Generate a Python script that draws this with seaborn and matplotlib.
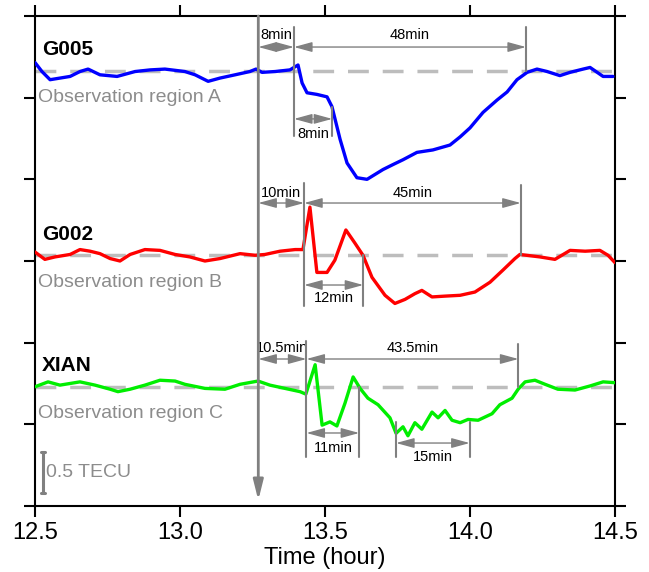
import numpy as np
import pandas as pd
import matplotlib
matplotlib.use("Agg")
import matplotlib.pyplot as plt
import seaborn as sns

# time (hour) and TEC deviation (TECU)
g005_t = [12.500, 12.524, 12.552, 12.621, 12.655, 12.683, 12.724, 12.783, 12.845, 12.897,
          12.948, 13.017, 13.052, 13.097, 13.138, 13.190, 13.241, 13.262, 13.283, 13.328,
          13.379, 13.407, 13.421, 13.438, 13.472, 13.507, 13.524, 13.552, 13.576, 13.610,
          13.645, 13.700, 13.734, 13.769, 13.817, 13.872, 13.931, 13.966, 14.000, 14.045,
          14.093, 14.128, 14.162, 14.197, 14.231, 14.266, 14.310, 14.345, 14.390, 14.414,
          14.459, 14.493]
g005_v = [0.10, -0.01, -0.11, -0.07, -0.01, 0.02, -0.05, -0.07, -0.01, 0.01,
          0.02, -0.01, -0.05, -0.13, -0.09, -0.05, -0.01, 0.02, -0.02, -0.01,
          0.01, 0.07, -0.15, -0.27, -0.29, -0.32, -0.44, -0.84, -1.13, -1.31,
          -1.33, -1.21, -1.15, -1.09, -1.00, -0.97, -0.91, -0.81, -0.70, -0.51,
          -0.36, -0.26, -0.11, -0.02, 0.02, -0.01, -0.06, -0.02, 0.02, 0.04,
          -0.07, -0.07]

g002_t = [12.500, 12.534, 12.569, 12.621, 12.655, 12.690, 12.724, 12.759, 12.793, 12.828,
          12.879, 12.931, 12.983, 13.034, 13.086, 13.138, 13.207, 13.259, 13.293, 13.345,
          13.397, 13.424, 13.448, 13.472, 13.507, 13.534, 13.572, 13.603, 13.631, 13.662,
          13.707, 13.741, 13.776, 13.810, 13.834, 13.869, 13.914, 13.966, 14.017, 14.069,
          14.114, 14.155, 14.172, 14.241, 14.293, 14.345, 14.397, 14.448, 14.476, 14.500]
g002_v = [0.04, -0.05, -0.02, 0.01, 0.07, 0.05, 0.02, -0.04, -0.07, 0.01,
          0.07, 0.06, 0.01, -0.02, -0.07, -0.04, 0.02, 0.00, 0.01, 0.05,
          0.07, 0.07, 0.59, -0.21, -0.21, -0.06, 0.31, 0.15, 0.00, -0.27,
          -0.49, -0.59, -0.54, -0.47, -0.43, -0.51, -0.50, -0.49, -0.45, -0.33,
          -0.18, -0.04, 0.01, -0.02, -0.05, 0.06, 0.05, 0.06, 0.00, -0.09]

xian_t = [12.500, 12.545, 12.586, 12.655, 12.707, 12.759, 12.786, 12.828, 12.879, 12.931,
          12.983, 13.017, 13.086, 13.155, 13.207, 13.269, 13.310, 13.362, 13.414, 13.434,
          13.466, 13.490, 13.517, 13.541, 13.569, 13.597, 13.621, 13.648, 13.683, 13.724,
          13.745, 13.769, 13.786, 13.810, 13.834, 13.869, 13.890, 13.914, 13.938, 13.966,
          13.993, 14.028, 14.076, 14.103, 14.145, 14.166, 14.190, 14.224, 14.259, 14.303,
          14.362, 14.414, 14.459, 14.500]
xian_v = [0.00, 0.06, 0.02, 0.06, 0.02, -0.03, -0.06, -0.03, 0.02, 0.08,
          0.07, 0.03, -0.02, -0.03, 0.03, 0.07, 0.02, -0.02, -0.06, -0.09,
          0.27, -0.47, -0.43, -0.48, -0.20, 0.12, -0.02, -0.14, -0.22, -0.38,
          -0.57, -0.49, -0.60, -0.44, -0.52, -0.31, -0.38, -0.29, -0.41, -0.44,
          -0.40, -0.41, -0.33, -0.22, -0.14, -0.03, 0.06, 0.08, 0.03, -0.03,
          -0.04, 0.01, 0.06, 0.05]

stations = ["G005", "G002", "XIAN"]
regions = ["Observation region A", "Observation region B", "Observation region C"]
colors = ["#0000ff", "#ff0000", "#00ee00"]
offsets = [5.33, 3.07, 1.46]
x_ticks = [12.5, 13.0, 13.5, 14.0, 14.5]
onset = 13.27

sns.set_style("ticks")
plt.rcParams["font.family"] = ["Liberation Sans", "DejaVu Sans"]
plt.rcParams["text.color"] = "black"
plt.rcParams["axes.labelcolor"] = "black"
plt.rcParams["xtick.color"] = "black"
plt.rcParams["ytick.color"] = "black"

fig = plt.figure(figsize=(6.49, 5.72), dpi=100)
ax = fig.add_axes([35 / 649, 66 / 572, 580 / 649, 490 / 572])

gray = "#808080"
series = [(g005_t, g005_v), (g002_t, g002_v), (xian_t, xian_v)]
for (t, v), name, reg, c, off in zip(series, stations, regions, colors, offsets):
    df = pd.DataFrame({"t": t, "v": np.array(v) + off})
    ax.axhline(off, color="#bdbdbd", lw=2.5, ls=(0, (6, 4)), zorder=1)
    sns.lineplot(data=df, x="t", y="v", color=c, lw=2.4, ax=ax, zorder=3)
    ax.text(12.524, off + 0.26, name, fontsize=15, fontweight="bold", va="center")
    ax.text(12.51, off - 0.33, reg, fontsize=14, color="#8c8c8c", va="center")


def vline(x, y0, y1, lw=1.5):
    ax.plot([x, x], [y0, y1], color=gray, lw=lw, zorder=4)


def span(x0, x1, y, label, ty, fs=10.5):
    ax.annotate("", xy=(x1, y), xytext=(x0, y),
                arrowprops=dict(arrowstyle="<|-|>,head_length=1.1,head_width=0.3",
                                color=gray, lw=1.0, shrinkA=0, shrinkB=0), zorder=4)
    ax.text((x0 + x1) / 2, ty, label, fontsize=fs, ha="center", va="center")


# onset line with arrow
ax.annotate("", xy=(onset, 0.07), xytext=(onset, 6.0),
            arrowprops=dict(arrowstyle="-|>,head_length=1.2,head_width=0.3",
                            color=gray, lw=2.0, shrinkA=0, shrinkB=0), zorder=4)

# G005
vline(13.393, 4.53, 5.865)
vline(14.193, 5.33, 5.865)
vline(13.525, 4.53, 4.885)
span(onset, 13.393, 5.62, "8min", 5.77)
span(13.393, 14.193, 5.62, "48min", 5.77)
span(13.393, 13.525, 4.74, "8min", 4.555)

# G002
vline(13.428, 2.45, 3.955)
vline(14.175, 3.07, 3.93)
vline(13.632, 2.45, 3.07)
span(onset, 13.428, 3.71, "10min", 3.83)
span(13.428, 14.175, 3.71, "45min", 3.83)
span(13.428, 13.632, 2.706, "12min", 2.547)

# XIAN
vline(13.436, 0.60, 2.02)
vline(14.167, 1.46, 1.98)
vline(13.618, 0.60, 1.46)
vline(13.745, 0.60, 1.03)
vline(13.999, 0.60, 1.03)
span(onset, 13.436, 1.80, "10.5min", 1.935)
span(13.436, 14.167, 1.80, "43.5min", 1.935)
span(13.436, 13.618, 0.894, "11min", 0.71)
span(13.745, 13.999, 0.771, "15min", 0.60)

# scale bar
ax.plot([12.528, 12.528], [0.16, 0.66], color=gray, lw=2.2)
ax.plot([12.521, 12.535], [0.66, 0.66], color=gray, lw=2.2)
ax.plot([12.521, 12.535], [0.16, 0.16], color=gray, lw=2.2)
ax.text(12.538, 0.41, "0.5 TECU", fontsize=14, color="#8c8c8c", va="center")

ax.set_xlim(12.5, 14.5)
ax.set_ylim(0, 6)
ax.set_xticks(x_ticks)
ax.set_xticklabels([f"{x:.1f}" for x in x_ticks], fontsize=17)
ax.set_yticks(range(7))
ax.set_yticklabels([])
ax.set_xlabel("Time (hour)", fontsize=17, labelpad=2)
ax.set_ylabel("")
ax.tick_params(direction="out", length=8, width=1.5, color="black",
               top=True, right=True, labeltop=False, labelright=False)
for s in ax.spines.values():
    s.set_visible(True)
    s.set_linewidth(1.5)
    s.set_color("black")

fig.savefig("out.png", dpi=100)
